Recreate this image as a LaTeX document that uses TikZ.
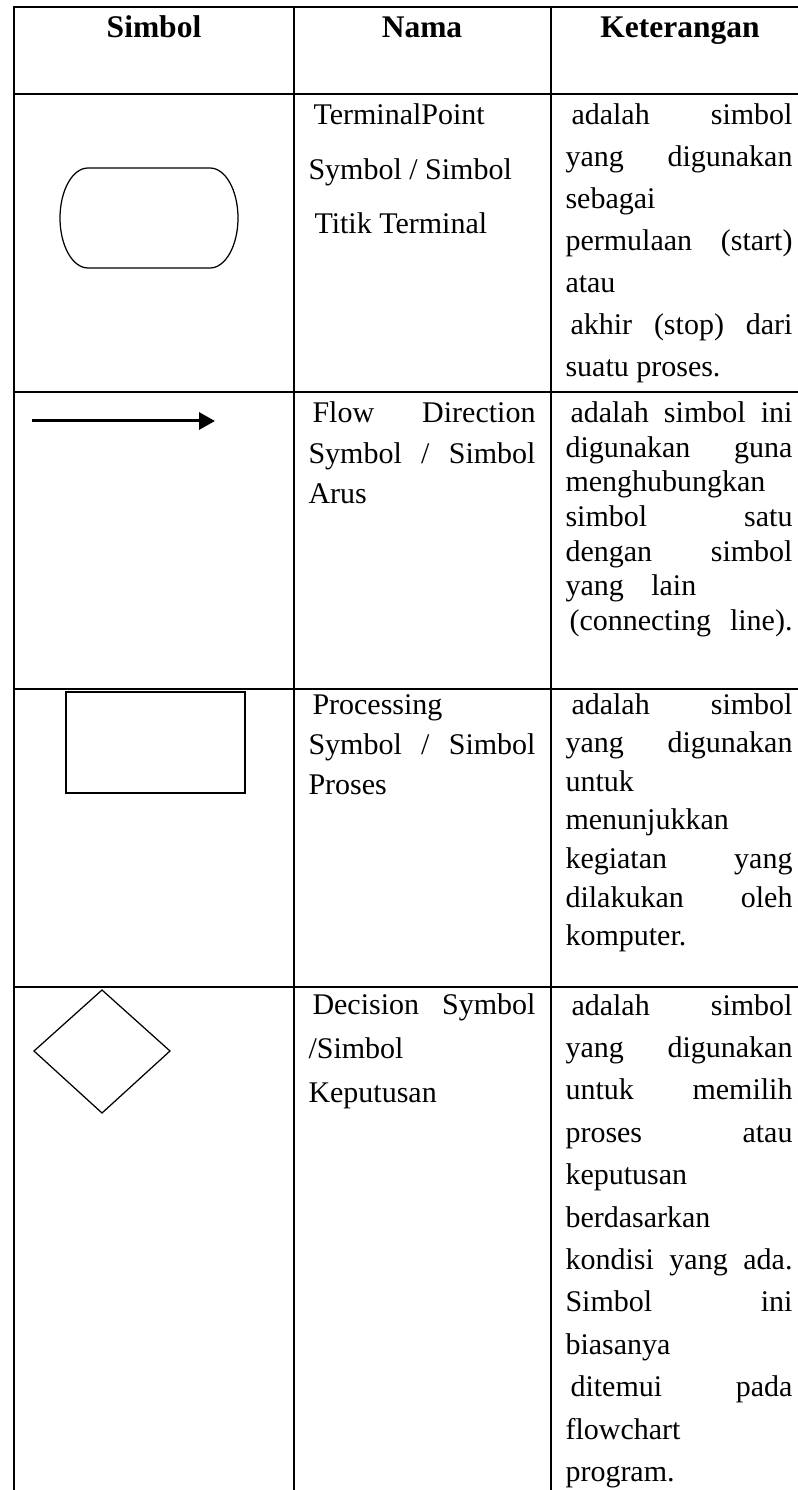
\documentclass[tikz,border=0pt]{standalone}
\usepackage{fontspec}
\setmainfont{Liberation Serif}
\usetikzlibrary{arrows.meta}

\newlength{\colw}\setlength{\colw}{90.8pt}
% justified line, optional indent
\newcommand{\jline}[2][0pt]{\hspace*{#1}\makebox[\dimexpr\colw-#1\relax][s]{#2}}

\tikzset{
  rule/.style={line width=0.6pt},
  cell/.style={inner sep=0pt, anchor=base west, font=\fontsize{12}{14}\selectfont},
  head/.style={inner sep=0pt, anchor=base, font=\bfseries\fontsize{12.6}{14}\selectfont},
  sym/.style={line width=0.5pt}
}

\begin{document}
\begin{tikzpicture}[x=0.4pt,y=-0.4pt]
\useasboundingbox (0,0) rectangle (798,1490);
% table
\draw[rule] (798,7) -- (14,7) -- (14,1490);
\foreach \y in {94,392,689,987} \draw[rule] (14,\y) -- (798,\y);
\foreach \x in {294,551} \draw[rule] (\x,7) -- (\x,1490);

% header
\node[head] (hsim) at (154,38) {Simbol};
\node[head] (hnam) at (422,38) {Nama};
\node[head] (hket) at (680,38) {Keterangan};

% symbols
\draw[sym] (88,168) -- (210,168) arc[start angle=-90,end angle=90,x radius=28,y radius=50]
  -- (88,268) arc[start angle=90,end angle=270,x radius=28,y radius=50] -- cycle;
\coordinate (arrs) at (32,421);
\coordinate (arre) at (215,421);
\draw[line width=1.2pt,-{Triangle[length=6.4pt,width=6.8pt]}] (arrs) -- (arre);
\draw[line width=0.7pt] (66,692) rectangle (245,793);
\draw[sym] (102,990) -- (170,1051) -- (102,1113) -- (34,1051) -- cycle;

% terminal
\foreach \t [count=\i from 0] in {{\hspace*{2pt}TerminalPoint},{Symbol / Simbol},{\hspace*{2.4pt}Titik Terminal}}
  \node[cell] (n1-\i) at (308,125+54.5*\i) {\t};
\foreach \t [count=\i from 0] in {{\jline[2.4pt]{adalah simbol}},{\jline{yang digunakan}},sebagai,
    {\jline{permulaan (start)}},atau,{\jline[2pt]{akhir (stop) dari}},{suatu proses.}}
  \node[cell] (k1-\i) at (565,125+42*\i) {\t};

% flow
\foreach \t [count=\i from 0] in {{\jline[1.6pt]{Flow Direction}},{\jline{Symbol / Simbol}},Arus}
  \node[cell] (n2-\i) at (308,423+40*\i) {\t};
\foreach \t [count=\i from 0] in {{\jline[2pt]{adalah simbol ini}},{\jline{digunakan guna}},menghubungkan,
    {\jline{simbol satu}},{\jline{dengan simbol}},{yang\hspace{11pt}lain},{\jline[1.6pt]{(connecting line).}}}
  \node[cell] (k2-\i) at (565,423+34.5*\i) {\t};

% process
\foreach \t [count=\i from 0] in {{\hspace*{1.6pt}Processing},{\jline{Symbol / Simbol}},Proses}
  \node[cell] (n3-\i) at (308,714+40*\i) {\t};
\foreach \t [count=\i from 0] in {{\jline[2.4pt]{adalah simbol}},{\jline{yang digunakan}},untuk,menunjukkan,
    {\jline{kegiatan yang}},{\jline{dilakukan oleh}},komputer.}
  \node[cell] (k3-\i) at (565,714+38.6*\i) {\t};

% decision
\foreach \t [count=\i from 0] in {{\jline[1.6pt]{Decision Symbol}},/Simbol,Keputusan}
  \node[cell] (n4-\i) at (308,1014+44*\i) {\t};
\foreach \t [count=\i from 0] in {{\jline[2.4pt]{adalah simbol}},{\jline{yang digunakan}},{\jline{untuk memilih}},
    {\jline{proses atau}},keputusan,berdasarkan,{\jline{kondisi yang ada.}},{\jline{Simbol ini}},biasanya,
    {\jline[2pt]{ditemui pada}},flowchart,program.}
  \node[cell] (k4-\i) at (565,1015+42.4*\i) {\t};
\end{tikzpicture}
\end{document}
